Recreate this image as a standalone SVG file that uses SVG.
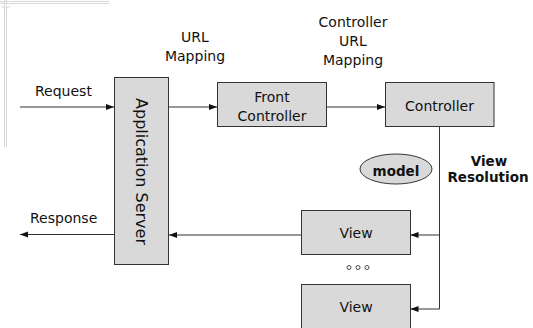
<svg xmlns="http://www.w3.org/2000/svg" width="533" height="328" viewBox="0 0 533 328">
  <style>
    .box { fill: #d9d9d9; stroke: #333; stroke-width: 1; }
    .lbl { font-family: "DejaVu Sans", Verdana, sans-serif; font-size: 14px; fill: #111; }
    .bold { font-family: "DejaVu Sans", Verdana, sans-serif; font-size: 13.5px; font-weight: bold; fill: #111; }
    .c { text-anchor: middle; }
    .wire { fill: none; stroke: #333; stroke-width: 1; }
    .guide { fill: none; stroke: #d8d8d8; stroke-width: 1; }
  </style>
  <defs>
    <marker id="arrow" viewBox="0 0 8 8" refX="8" refY="4" markerWidth="8" markerHeight="8" markerUnits="userSpaceOnUse" orient="auto">
      <path d="M0,1 L8,4 L0,7 Z" fill="#111"/>
    </marker>
  </defs>

  <!-- page margin guides -->
  <g id="guides">
    <path class="guide" d="M4.5,0 V147 M6.5,0 V147"/>
    <path class="guide" d="M0,1.5 H109 M0,3.5 H109"/>
    <path class="guide" d="M1,6 Q5.5,10 10,6"/>
  </g>

  <!-- connectors -->
  <g id="connectors">
    <line class="wire" x1="20" y1="107" x2="114" y2="107" marker-end="url(#arrow)"/>
    <line class="wire" x1="114" y1="234.5" x2="20" y2="234.5" marker-end="url(#arrow)"/>
    <line class="wire" x1="168.5" y1="107" x2="217" y2="107" marker-end="url(#arrow)"/>
    <line class="wire" x1="326.5" y1="107" x2="385" y2="107" marker-end="url(#arrow)"/>
    <path class="wire" d="M439.5,126.5 V309"/>
    <line class="wire" x1="439.5" y1="235" x2="410.5" y2="235" marker-end="url(#arrow)"/>
    <line class="wire" x1="439.5" y1="309" x2="410.5" y2="309" marker-end="url(#arrow)"/>
    <line class="wire" x1="301.5" y1="235" x2="169" y2="235" marker-end="url(#arrow)"/>
  </g>

  <!-- edge labels -->
  <g id="labels">
    <text class="lbl" x="35" y="95.5">Request</text>
    <text class="lbl" x="30" y="223">Response</text>
    <text class="lbl c" x="195" y="41.5">URL</text>
    <text class="lbl c" x="195" y="60.5">Mapping</text>
    <text class="lbl c" x="353" y="26.5">Controller</text>
    <text class="lbl c" x="353" y="45.5">URL</text>
    <text class="lbl c" x="353" y="64.5">Mapping</text>
    <text class="bold c" x="489" y="165.5">View</text>
    <text class="bold c" x="488" y="181.5">Resolution</text>
  </g>

  <g id="app-server">
    <rect class="box" x="114.5" y="77.5" width="54" height="187"/>
    <text class="lbl c" style="font-size:16px" transform="translate(136,171.5) rotate(90)">Application Server</text>
  </g>

  <g id="front-controller">
    <rect class="box" x="217.5" y="82.5" width="109" height="44"/>
    <text class="lbl c" x="272" y="101.5">Front</text>
    <text class="lbl c" x="272" y="120.5">Controller</text>
  </g>

  <g id="controller">
    <rect class="box" x="385.5" y="82.5" width="108.5" height="44"/>
    <text class="lbl c" x="439.5" y="111">Controller</text>
  </g>

  <g id="model">
    <ellipse class="box" cx="396" cy="169" rx="36" ry="15"/>
    <text class="bold c" x="396" y="176">model</text>
  </g>

  <g id="view-1">
    <rect class="box" x="301.5" y="210.5" width="109" height="44"/>
    <text class="lbl c" x="356" y="237.5">View</text>
  </g>

  <g id="ellipsis">
    <circle cx="349" cy="267.5" r="2" fill="none" stroke="#333" stroke-width="0.9"/>
    <circle cx="358" cy="267.5" r="2" fill="none" stroke="#333" stroke-width="0.9"/>
    <circle cx="367" cy="267.5" r="2" fill="none" stroke="#333" stroke-width="0.9"/>
  </g>

  <g id="view-2">
    <rect class="box" x="301.5" y="284.5" width="109" height="44"/>
    <text class="lbl c" x="356" y="311.5">View</text>
  </g>
</svg>
